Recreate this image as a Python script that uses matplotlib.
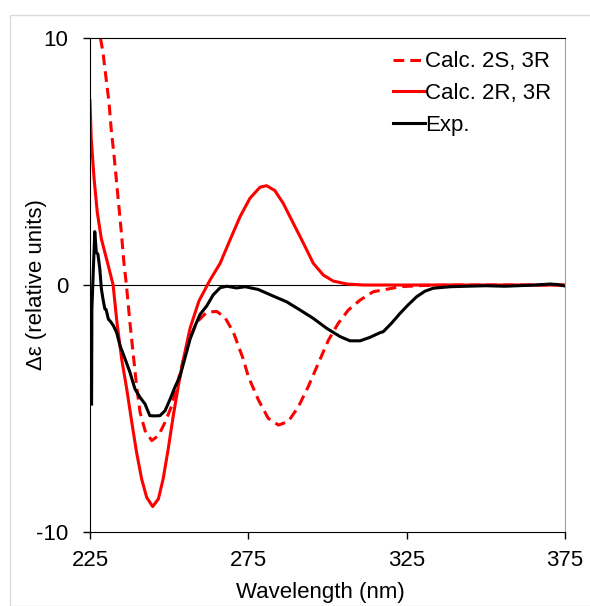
import matplotlib.pyplot as plt
from matplotlib.patches import Rectangle

plt.rcParams['font.family'] = ['Liberation Sans', 'DejaVu Sans']
plt.rcParams['axes.unicode_minus'] = False

# Calc. 2S, 3R (dashed red)
wl_s = [228.3, 229.1, 230.1, 231.0, 231.7, 232.6, 233.3, 234.1, 234.9, 235.7, 236.5, 237.6,
        238.7, 239.7, 240.8, 242.4, 244.5, 246.6, 248.7, 250.8, 252.4, 254.0, 256.0, 258.7,
        261.9, 265.0, 267.6, 270.3, 273.4, 275.0, 278.2, 281.3, 284.5, 287.6, 290.8, 293.9,
        297.1, 300.3, 303.4, 306.6, 310.3, 314.5, 317.6, 322.9, 330.0, 340.0, 375.0]
cd_s = [10.0, 9.42, 8.34, 7.4, 6.3, 5.23, 4.29, 3.21, 2.13, 0.92, 0.0, -1.51,
        -2.86, -4.08, -5.15, -5.9, -6.3, -6.1, -5.56, -4.89, -4.08, -3.27, -2.32, -1.51,
        -1.1, -1.07, -1.31, -1.92, -3.0, -3.71, -4.66, -5.4, -5.67, -5.53, -4.93, -4.12,
        -3.17, -2.23, -1.55, -1.01, -0.61, -0.27, -0.2, -0.07, -0.02, 0.0, 0.0]

# Calc. 2R, 3R (solid red)
wl_r = [225.0, 225.4, 226.3, 227.3, 228.6, 230.5, 232.3, 233.5, 235.0, 236.6, 238.2, 239.7,
        241.3, 242.9, 244.8, 246.6, 248.1, 249.7, 251.3, 252.9, 254.5, 256.6, 259.4, 262.9,
        266.1, 269.2, 272.4, 275.5, 278.7, 280.8, 283.4, 286.0, 289.2, 292.4, 295.5, 298.7,
        301.8, 306.1, 311.3, 330.0, 375.0]
cd_r = [7.46, 5.9, 4.29, 2.94, 1.86, 0.92, 0.0, -1.5, -3.0, -4.21, -5.56, -6.77,
        -7.85, -8.6, -8.97, -8.66, -7.85, -6.64, -5.29, -4.08, -3.0, -1.75, -0.65, 0.2,
        0.88, 1.82, 2.77, 3.51, 3.96, 4.02, 3.82, 3.31, 2.5, 1.69, 0.88, 0.4,
        0.16, 0.04, 0.0, 0.0, 0.0]

# Exp. (black)
wl_e = [225.5, 225.6, 226.5, 227.0, 227.5, 228.1, 228.6, 229.1, 229.7, 230.1, 230.8, 231.6,
        232.4, 233.4, 234.5, 236.1, 237.6, 239.2, 240.8, 242.4, 243.1, 243.9, 245.5, 247.1,
        248.7, 250.3, 251.8, 253.4, 255.0, 256.6, 258.2, 259.7, 261.9, 263.9, 266.1, 268.2,
        271.3, 274.0, 278.1, 282.9, 287.1, 291.3, 295.5, 299.7, 304.0, 307.1, 310.3, 313.4,
        316.6, 317.6, 320.2, 322.9, 325.5, 328.2, 330.8, 333.4, 338.7, 344.0, 350.0, 356.0,
        362.0, 366.0, 370.3, 372.5, 375.0]
cd_e = [-4.82, -0.97, 2.16, 1.32, 1.25, 0.65, -0.16, -0.57, -0.97, -1.0, -1.38, -1.5,
        -1.65, -1.92, -2.46, -3.0, -3.53, -4.21, -4.55, -4.82, -5.05, -5.29, -5.3, -5.29,
        -5.09, -4.62, -4.14, -3.7, -2.95, -2.19, -1.65, -1.2, -0.84, -0.4, -0.11, -0.05,
        -0.12, -0.07, -0.18, -0.45, -0.68, -1.01, -1.35, -1.75, -2.09, -2.26, -2.26, -2.12,
        -1.93, -1.89, -1.55, -1.15, -0.8, -0.47, -0.25, -0.13, -0.07, -0.05, -0.03, -0.05,
        -0.02, 0.0, 0.04, 0.02, -0.04]

fig = plt.figure(figsize=(5.9, 6.06), dpi=100)
fig.patches.append(Rectangle((9.5 / 590, 0), 1.0, 1 - 14.5 / 606, transform=fig.transFigure,
                             fill=False, edgecolor='#dcdcdc', linewidth=1.0))
ax = fig.add_axes([90 / 590, 1 - 532 / 606, 475 / 590, 494 / 606])

ax.axhline(0, color='black', linewidth=0.8, zorder=1)
ax.plot(wl_s, cd_s, color='#ff0000', linestyle=(0, (3.5, 2.0)), linewidth=2.2, label='Calc. 2S, 3R')
ax.plot(wl_r, cd_r, color='#ff0000', linewidth=2.2, label='Calc. 2R, 3R')
ax.plot(wl_e, cd_e, color='black', linewidth=2.2, label='Exp.')

ax.set_xlim(225, 375)
ax.set_ylim(-10, 10)
ax.set_xticks([225, 275, 325, 375])
ax.set_yticks([-10, 0, 10])
ax.tick_params(direction='out', length=5, width=1, labelsize=16)
ax.tick_params(axis='y', pad=10.5)
ax.tick_params(axis='x', pad=8)
ax.set_xlabel('Wavelength (nm)', fontsize=16)
ax.set_ylabel('Δε (relative units)', fontsize=16)
ax.xaxis.set_label_coords(0.484, -0.102)
ax.yaxis.set_label_coords(-0.09, 0.5)
ax.spines['right'].set_color('#a0a0a0')

ax.legend(loc='upper right', frameon=False, fontsize=16, handlelength=1.45, handletextpad=0.0,
          labelspacing=0.48, borderaxespad=0.2, bbox_to_anchor=(1.0, 1.0))

plt.savefig('out.png', dpi=100)
